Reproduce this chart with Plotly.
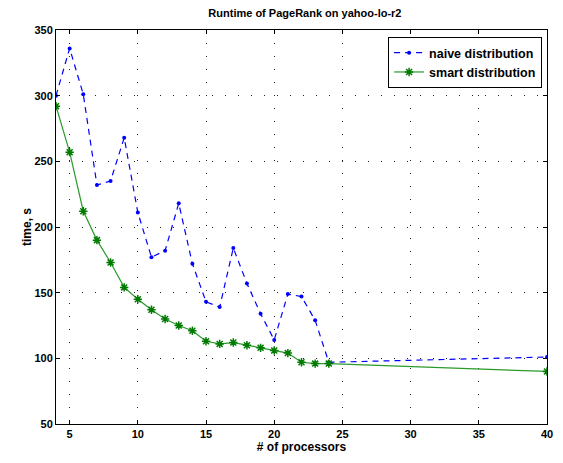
import plotly.graph_objects as go

processors = [4, 5, 6, 7, 8, 9, 10, 11, 12, 13, 14, 15, 16, 17, 18, 19, 20, 21, 22, 23, 24, 40]
naive = [300, 336, 301, 232, 235, 268, 211, 177, 182, 218, 172, 143, 139, 184, 157, 134, 114, 149, 147, 129, 97, 101]
smart = [292, 257, 212, 190, 173, 154, 145, 137, 130, 125, 121, 113, 111, 112, 110, 108, 106, 104, 97, 96, 96, 90]

x_ticks = [5, 10, 15, 20, 25, 30, 35, 40]
y_ticks = [50, 100, 150, 200, 250, 300, 350]

FAM = "Liberation Sans, Arial, sans-serif"
font = dict(family=FAM, size=11, color="black", weight="bold")

fig = go.Figure()
fig.add_trace(go.Scatter(
    x=processors, y=naive, name="naive distribution", mode="lines+markers",
    line=dict(color="#0000ff", width=1.2, dash="6px,5px"),
    marker=dict(symbol="circle", size=4, color="#0000ff"),
))
fig.add_trace(go.Scatter(
    x=processors, y=smart, name="smart distribution", mode="lines+markers",
    line=dict(color="#2a9a2a", width=1.2),
    marker=dict(symbol="asterisk-open", size=7, color="#007a00",
                line=dict(color="#007a00", width=1.5)),
))

axis_common = dict(
    showline=True, linecolor="black", linewidth=1, mirror="ticks",
    ticks="inside", ticklen=4, tickcolor="black",
    showgrid=True, gridcolor="#222222", gridwidth=1, griddash="1px,12px",
    zeroline=False, tickfont=font,
)

fig.update_layout(
    width=555, height=455,
    margin=dict(l=48, r=10, t=22, b=39),
    paper_bgcolor="white", plot_bgcolor="white",
    font=font,
    title=dict(text="Runtime of PageRank on yahoo-lo-r2", x=0.535, xanchor="center",
               y=1, yanchor="top", pad=dict(t=1, b=0),
               font=dict(size=11, family=FAM, color="black", weight="bold")),
    xaxis=dict(range=[4, 40], tickvals=x_ticks,
               title=dict(text="# of processors", standoff=2,
                          font=dict(size=12, family=FAM, color="black", weight="bold")),
               **axis_common),
    yaxis=dict(range=[50, 350], tickvals=y_ticks,
               title=dict(text="time, s", standoff=0,
                          font=dict(size=12, family=FAM, color="black", weight="bold")),
               **axis_common),
    legend=dict(x=0.99, y=0.982, xanchor="right", yanchor="top",
                bgcolor="white", bordercolor="black", borderwidth=1,
                font=dict(size=12.5, family=FAM, color="black", weight="bold"),
                tracegroupgap=0, itemwidth=30),
    showlegend=True,
)

fig.write_html("out.html")
